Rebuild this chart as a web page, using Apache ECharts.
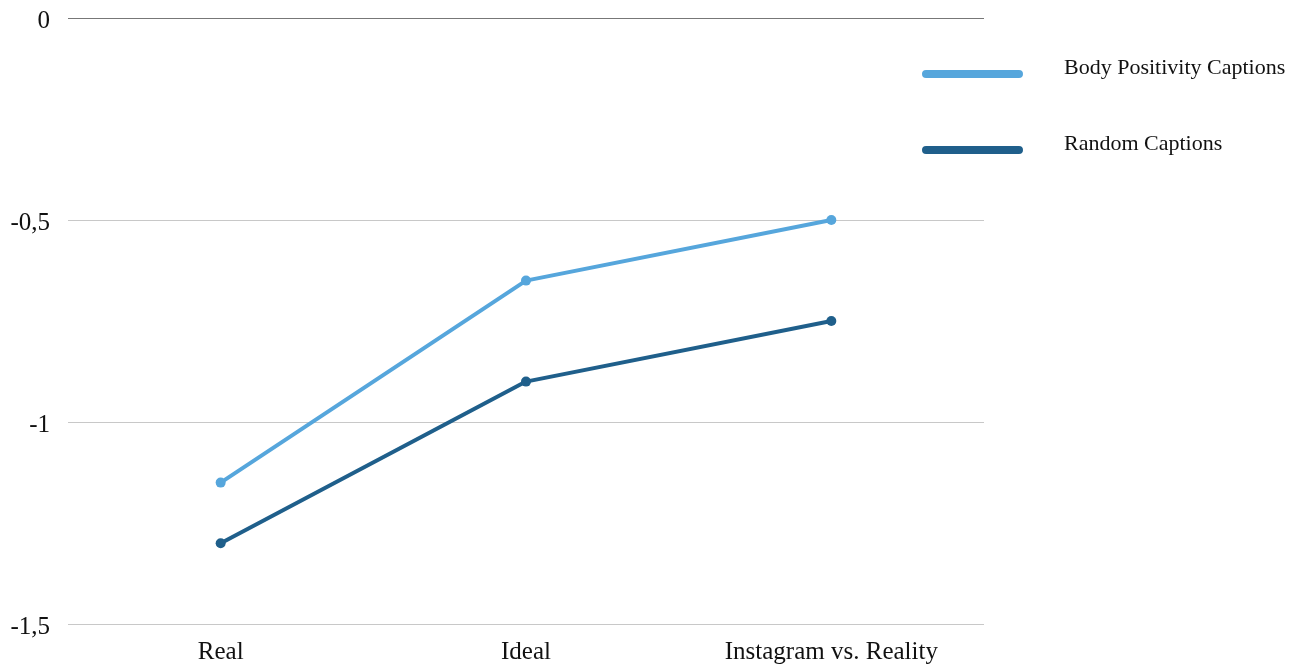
<!DOCTYPE html>
<html>
<head>
<meta charset="utf-8">
<script src="https://cdn.jsdelivr.net/npm/echarts@6/dist/echarts.min.js"></script>
<style>
html,body{margin:0;padding:0;background:#fff;}
#chart{width:1304px;height:666px;}
</style>
</head>
<body>
<div id="chart"></div>
<script>
const categories = ['Real', 'Ideal', 'Instagram vs. Reality'];
const seriesNames = ['Body Positivity Captions', 'Random Captions'];
const bodyPositivity = [-1.15, -0.65, -0.50];
const randomCaptions = [-1.30, -0.90, -0.75];
const colors = ['#56a6dc', '#1f5f8b'];
const FONT = '"Liberation Serif", "DejaVu Serif", serif';

const chart = echarts.init(document.getElementById('chart'));
const pill = 'path://M4,0 L96,0 A4,4 0 0 1 96,8 L4,8 A4,4 0 0 1 4,0 Z';
chart.setOption({
  animation: false,
  backgroundColor: '#fff',
  textStyle: { fontFamily: FONT },
  grid: { left: 68, right: 320, top: 18, bottom: 42, containLabel: false },
  legend: {
    orient: 'vertical',
    left: 917,
    top: 52,
    itemWidth: 101,
    itemHeight: 9,
    itemGap: 54,
    icon: pill,
    formatter: name => '{t|' + name + '}',
    textStyle: {
      fontFamily: FONT, fontSize: 22, color: '#111',
      rich: { t: { fontFamily: FONT, fontSize: 22, color: '#111', padding: [0, 0, 12, 36] } }
    },
    data: seriesNames
  },
  xAxis: {
    type: 'category',
    data: categories,
    boundaryGap: true,
    axisLine: { show: false },
    axisTick: { show: false },
    axisLabel: { fontFamily: FONT, fontSize: 25, color: '#111', margin: 16 },
    splitLine: { show: false }
  },
  yAxis: {
    type: 'value',
    min: -1.5,
    max: 0,
    interval: 0.5,
    axisLine: { show: false },
    axisTick: { show: false },
    axisLabel: {
      fontFamily: FONT, fontSize: 25, color: '#111', margin: 18,
      formatter: v => '{v|' + String(v).replace('.', ',') + '}',
      rich: { v: { fontFamily: FONT, fontSize: 25, color: '#111', padding: [6, 0, 0, 0] } }
    },
    splitLine: { show: true, lineStyle: { color: ['#c8c8c8', '#c8c8c8', '#c8c8c8', '#777'], width: 1 } }
  },
  series: [
    {
      name: seriesNames[0], type: 'line', data: bodyPositivity,
      color: colors[0], symbol: 'circle', symbolSize: 10,
      lineStyle: { width: 4, color: colors[0] }, itemStyle: { color: colors[0] }
    },
    {
      name: seriesNames[1], type: 'line', data: randomCaptions,
      color: colors[1], symbol: 'circle', symbolSize: 10,
      lineStyle: { width: 4, color: colors[1] }, itemStyle: { color: colors[1] }
    }
  ]
});
</script>
</body>
</html>
